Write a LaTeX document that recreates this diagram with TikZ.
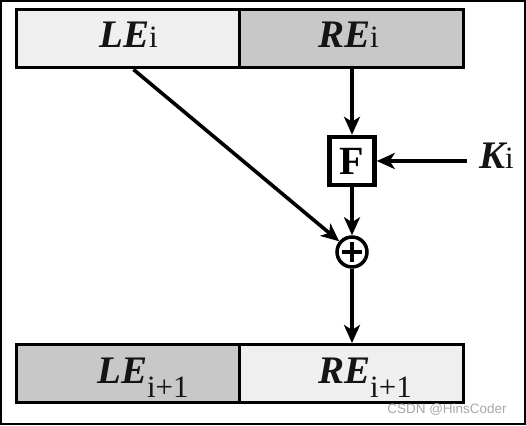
\documentclass[tikz,border=0pt]{standalone}
\usepackage{fontspec}
\setmainfont{Liberation Serif}
\newfontfamily\wmfont{Liberation Sans}
\usetikzlibrary{arrows.meta,calc}
\definecolor{lightbox}{HTML}{EFEFEF}
\definecolor{darkbox}{HTML}{C8C8C8}
\definecolor{wmgray}{HTML}{A8A8A8}
\newcommand{\bigtxt}[1]{{\fontsize{39}{39}\selectfont\bfseries\itshape #1}}
\newcommand{\idx}[1]{{\fontsize{31}{31}\selectfont\mdseries\upshape #1}}
\begin{document}
\begin{tikzpicture}[x=1pt,y=-1pt,
  block/.style={draw=black, line width=3pt, inner sep=0pt, minimum height=58pt},
  lbl/.style={inner sep=0pt, anchor=base west, text=black!92},
  arr/.style={line width=3.6pt, -{Stealth[length=18pt,width=16pt,inset=5pt]}},
  fbox/.style={draw=black, line width=4.5pt, fill=white, inner sep=0pt, minimum width=45pt, minimum height=48pt, font=\fontsize{40}{40}\selectfont\bfseries},
  xorc/.style={circle, draw=black, line width=3.5pt, fill=white, inner sep=0pt, minimum size=30pt}
]
\useasboundingbox (0,0) rectangle (526,425);
\draw[line width=2pt] (1,1) rectangle (525,424);
% top row
\node[block, fill=lightbox, minimum width=223pt] (le) at (127.5,39) {};
\node[block, fill=darkbox, minimum width=224pt] (re) at (351,39) {};
% bottom row
\node[block, fill=darkbox, minimum width=223pt] (le2) at (127.5,373.5) {};
\node[block, fill=lightbox, minimum width=224pt] (re2) at (351,373.5) {};
% labels
\node[lbl] (tle) at (99,48) {\bigtxt{LE}\idx{i}};
\node[lbl] (tre) at (318,48) {\bigtxt{RE}\idx{i}};
\node[lbl] (tle2) at (97,383) {\bigtxt{LE}\raisebox{-14pt}{\idx{i+1}}};
\node[lbl] (tre2) at (318,383) {\bigtxt{RE}\raisebox{-14pt}{\idx{i+1}}};
% F and XOR
\node[fbox] (F) at (352,161) {F};
\node[xorc, path picture={
  \draw[line width=4.5pt] ([xshift=-10pt]path picture bounding box.center) -- ([xshift=10pt]path picture bounding box.center);
  \draw[line width=4.5pt] ([yshift=-10pt]path picture bounding box.center) -- ([yshift=10pt]path picture bounding box.center);
}] (xor) at (352,252) {};
\node[lbl, anchor=west] (K) at (479,156) {\bigtxt{K}\idx{i}};
% connectors
\draw[arr] (re.south -| F.north) -- (F.north);
\draw[arr] ([xshift=-12pt]K.west |- F.east) -- (F.east);
\draw[arr] (F.south) -- (xor);
\draw[arr] ([xshift=6pt]le.south) -- (xor);
\draw[arr] (xor.south) -- (re2.north -| xor.south);
% watermark
\node[inner sep=0pt, text=wmgray, font=\wmfont\fontsize{13.5}{13.5}\selectfont] (wm) at (447,410) {CSDN @HinsCoder};
\end{tikzpicture}
\end{document}
